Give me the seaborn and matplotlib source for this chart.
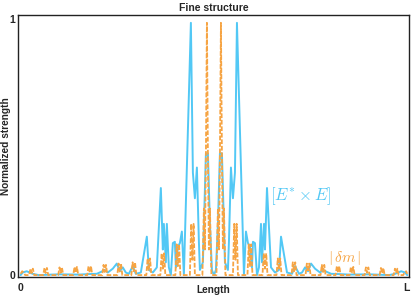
import matplotlib
matplotlib.use('Agg')
import matplotlib.pyplot as plt
import pandas as pd
import seaborn as sns

# Positions along the length run from 0 (left tick) to 385 (the "L" tick)
L_POS = 385

# |E* x E| (solid cyan)
field_x = [0, 2, 6, 12, 18, 38, 58, 68, 76, 80, 84, 87, 92, 96, 99, 102, 105, 108,
           112, 115, 120, 126, 128, 132, 136, 140, 142, 143, 145, 146, 148, 150, 152,
           154, 155, 157, 159, 161, 163, 170, 172, 174, 176, 178, 179, 182, 185, 187,
           189, 191, 193, 195, 197, 199, 201, 204, 207, 208, 210, 212, 214, 216, 223,
           225, 227, 229, 231, 232, 234, 236, 238, 240, 241, 243, 244, 246, 250, 254,
           258, 260, 266, 271, 274, 278, 281, 284, 287, 290, 294, 299, 302, 306, 310,
           318, 328, 348, 368, 374, 380, 384, 386]
field_y = [0.0, 0.01, 0.015, 0.005, 0.0, 0.003, 0.002, 0.004, 0.005, 0.012, 0.02, 0.01,
           0.025, 0.045, 0.015, 0.03, 0.01, 0.005, 0.035, 0.005, 0.01, 0.15, 0.02, 0.01,
           0.03, 0.34, 0.1, 0.2, 0.05, 0.2, 0.03, 0.0, 0.125, 0.13, 0.03, 0.11, 0.125,
           0.17, 0.0, 0.985, 0.4, 0.3, 0.42, 0.13, 0.02, 0.05, 0.475, 0.475, 0.2, 0.02,
           0.0, 0.02, 0.2, 0.475, 0.475, 0.05, 0.02, 0.13, 0.42, 0.3, 0.4, 0.985, 0.0,
           0.17, 0.125, 0.11, 0.03, 0.13, 0.125, 0.0, 0.03, 0.2, 0.05, 0.2, 0.1, 0.34,
           0.03, 0.01, 0.02, 0.15, 0.01, 0.005, 0.035, 0.005, 0.01, 0.03, 0.015, 0.045,
           0.025, 0.01, 0.02, 0.012, 0.005, 0.004, 0.002, 0.003, 0.0, 0.005, 0.015,
           0.01, 0.0]

# |delta m| (dashed orange)
dm_x = [0, 1.5, 3, 4.5,
        8.5, 9.8, 11, 12.2, 13.5,
        22.5, 23.8, 25, 26.2, 27.5,
        37.5, 38.8, 40, 41.2, 42.5,
        52.5, 53.8, 55, 56.2, 57.5,
        66.5, 67.8, 69, 70.2, 71.5,
        81.5, 82.8, 84, 85.2, 86.5,
        96.5, 97.8, 99, 100.2, 101.5,
        110.5, 111.8, 113, 114.2, 115.5,
        125.5, 126.8, 128, 129.2, 130.5,
        139.5, 140.8, 142, 143.2, 144.5,
        154.5, 155.8, 157, 158.2, 159.5,
        169, 170.3, 171.5, 172.7, 174,
        181.5, 183, 184, 185, 186, 187, 188, 189, 190.5,
        195.5, 197, 198, 199, 200, 201, 202, 203, 204.5,
        212, 213.3, 214.5, 215.7, 217,
        226.5, 227.8, 229, 230.2, 231.5,
        241.5, 242.8, 244, 245.2, 246.5,
        255.5, 256.8, 258, 259.2, 260.5,
        270.5, 271.8, 273, 274.2, 275.5,
        284.5, 285.8, 287, 288.2, 289.5,
        299.5, 300.8, 302, 303.2, 304.5,
        314.5, 315.8, 317, 318.2, 319.5,
        328.5, 329.8, 331, 332.2, 333.5,
        343.5, 344.8, 346, 347.2, 348.5,
        358.5, 359.8, 361, 362.2, 363.5,
        372.5, 373.8, 375, 376.2, 377.5,
        382, 383.5, 385, 386]
dm_y = [0.005, 0.015, 0.01, 0.0,
        0.0, 0.025, 0.008, 0.025, 0.0,
        0.0, 0.028, 0.008, 0.028, 0.0,
        0.0, 0.03, 0.009, 0.03, 0.0,
        0.0, 0.032, 0.01, 0.032, 0.0,
        0.0, 0.035, 0.01, 0.035, 0.0,
        0.0, 0.04, 0.012, 0.04, 0.0,
        0.0, 0.045, 0.014, 0.045, 0.0,
        0.0, 0.05, 0.015, 0.05, 0.0,
        0.0, 0.065, 0.02, 0.065, 0.0,
        0.0, 0.085, 0.025, 0.085, 0.0,
        0.0, 0.12, 0.035, 0.12, 0.0,
        0.0, 0.2, 0.06, 0.2, 0.0,
        0.0, 0.26, 0.1, 0.47, 0.985, 0.47, 0.1, 0.26, 0.0,
        0.0, 0.26, 0.1, 0.47, 0.985, 0.47, 0.1, 0.26, 0.0,
        0.0, 0.2, 0.06, 0.2, 0.0,
        0.0, 0.12, 0.035, 0.12, 0.0,
        0.0, 0.085, 0.025, 0.085, 0.0,
        0.0, 0.065, 0.02, 0.065, 0.0,
        0.0, 0.05, 0.015, 0.05, 0.0,
        0.0, 0.045, 0.014, 0.045, 0.0,
        0.0, 0.04, 0.012, 0.04, 0.0,
        0.0, 0.035, 0.01, 0.035, 0.0,
        0.0, 0.032, 0.01, 0.032, 0.0,
        0.0, 0.03, 0.009, 0.03, 0.0,
        0.0, 0.028, 0.008, 0.028, 0.0,
        0.0, 0.025, 0.008, 0.025, 0.0,
        0.0, 0.01, 0.015, 0.005]

CYAN = '#52c8f5'
ORANGE = '#f6a443'

sns.set_style("white")
plt.rcParams['font.family'] = ['Liberation Sans', 'DejaVu Sans']
plt.rcParams['mathtext.fontset'] = 'cm'

fig = plt.figure(figsize=(4.15, 2.98), dpi=100)
ax = fig.add_axes([0.044, 0.07, 0.941, 0.88])

field_df = pd.DataFrame({'length': field_x, 'strength': field_y})
dm_df = pd.DataFrame({'length': dm_x, 'strength': dm_y})

sns.lineplot(data=field_df, x='length', y='strength', ax=ax, color=CYAN,
             linewidth=1.4, estimator=None, sort=False)
sns.lineplot(data=dm_df, x='length', y='strength', ax=ax, color=ORANGE,
             linewidth=1.3, linestyle=(0, (2.6, 1.0)), estimator=None, sort=False)

ax.text(249, 0.31, r'$[E^{*}\times E]$', color=CYAN, fontsize=12, va='center')
ax.text(307, 0.066, r'$|\,\delta m\,|$', color=ORANGE, fontsize=11, va='center')

ax.set_xlim(-2.4, 387.6)
ax.set_ylim(-0.008, 1.016)
ax.set_xticks([0, L_POS], ['0', 'L'])
ax.set_yticks([0, 1], ['0', '1'])
ax.tick_params(length=0, labelsize=7.5, pad=2)
ax.tick_params(axis='x', pad=4)
for lab in ax.get_xticklabels() + ax.get_yticklabels():
    lab.set_fontweight('bold')

for side in ['left', 'bottom', 'top', 'right']:
    ax.spines[side].set_color('#222222')
    ax.spines[side].set_linewidth(1.0)

ax.set_xlabel('Length', fontsize=7.3, fontweight='bold', labelpad=-5.5)
ax.set_ylabel('Normalized strength', fontsize=7.3, fontweight='bold', labelpad=-1)
ax.set_title('Fine structure', fontsize=7.5, fontweight='bold', pad=3)

fig.savefig('out.png', dpi=100)
